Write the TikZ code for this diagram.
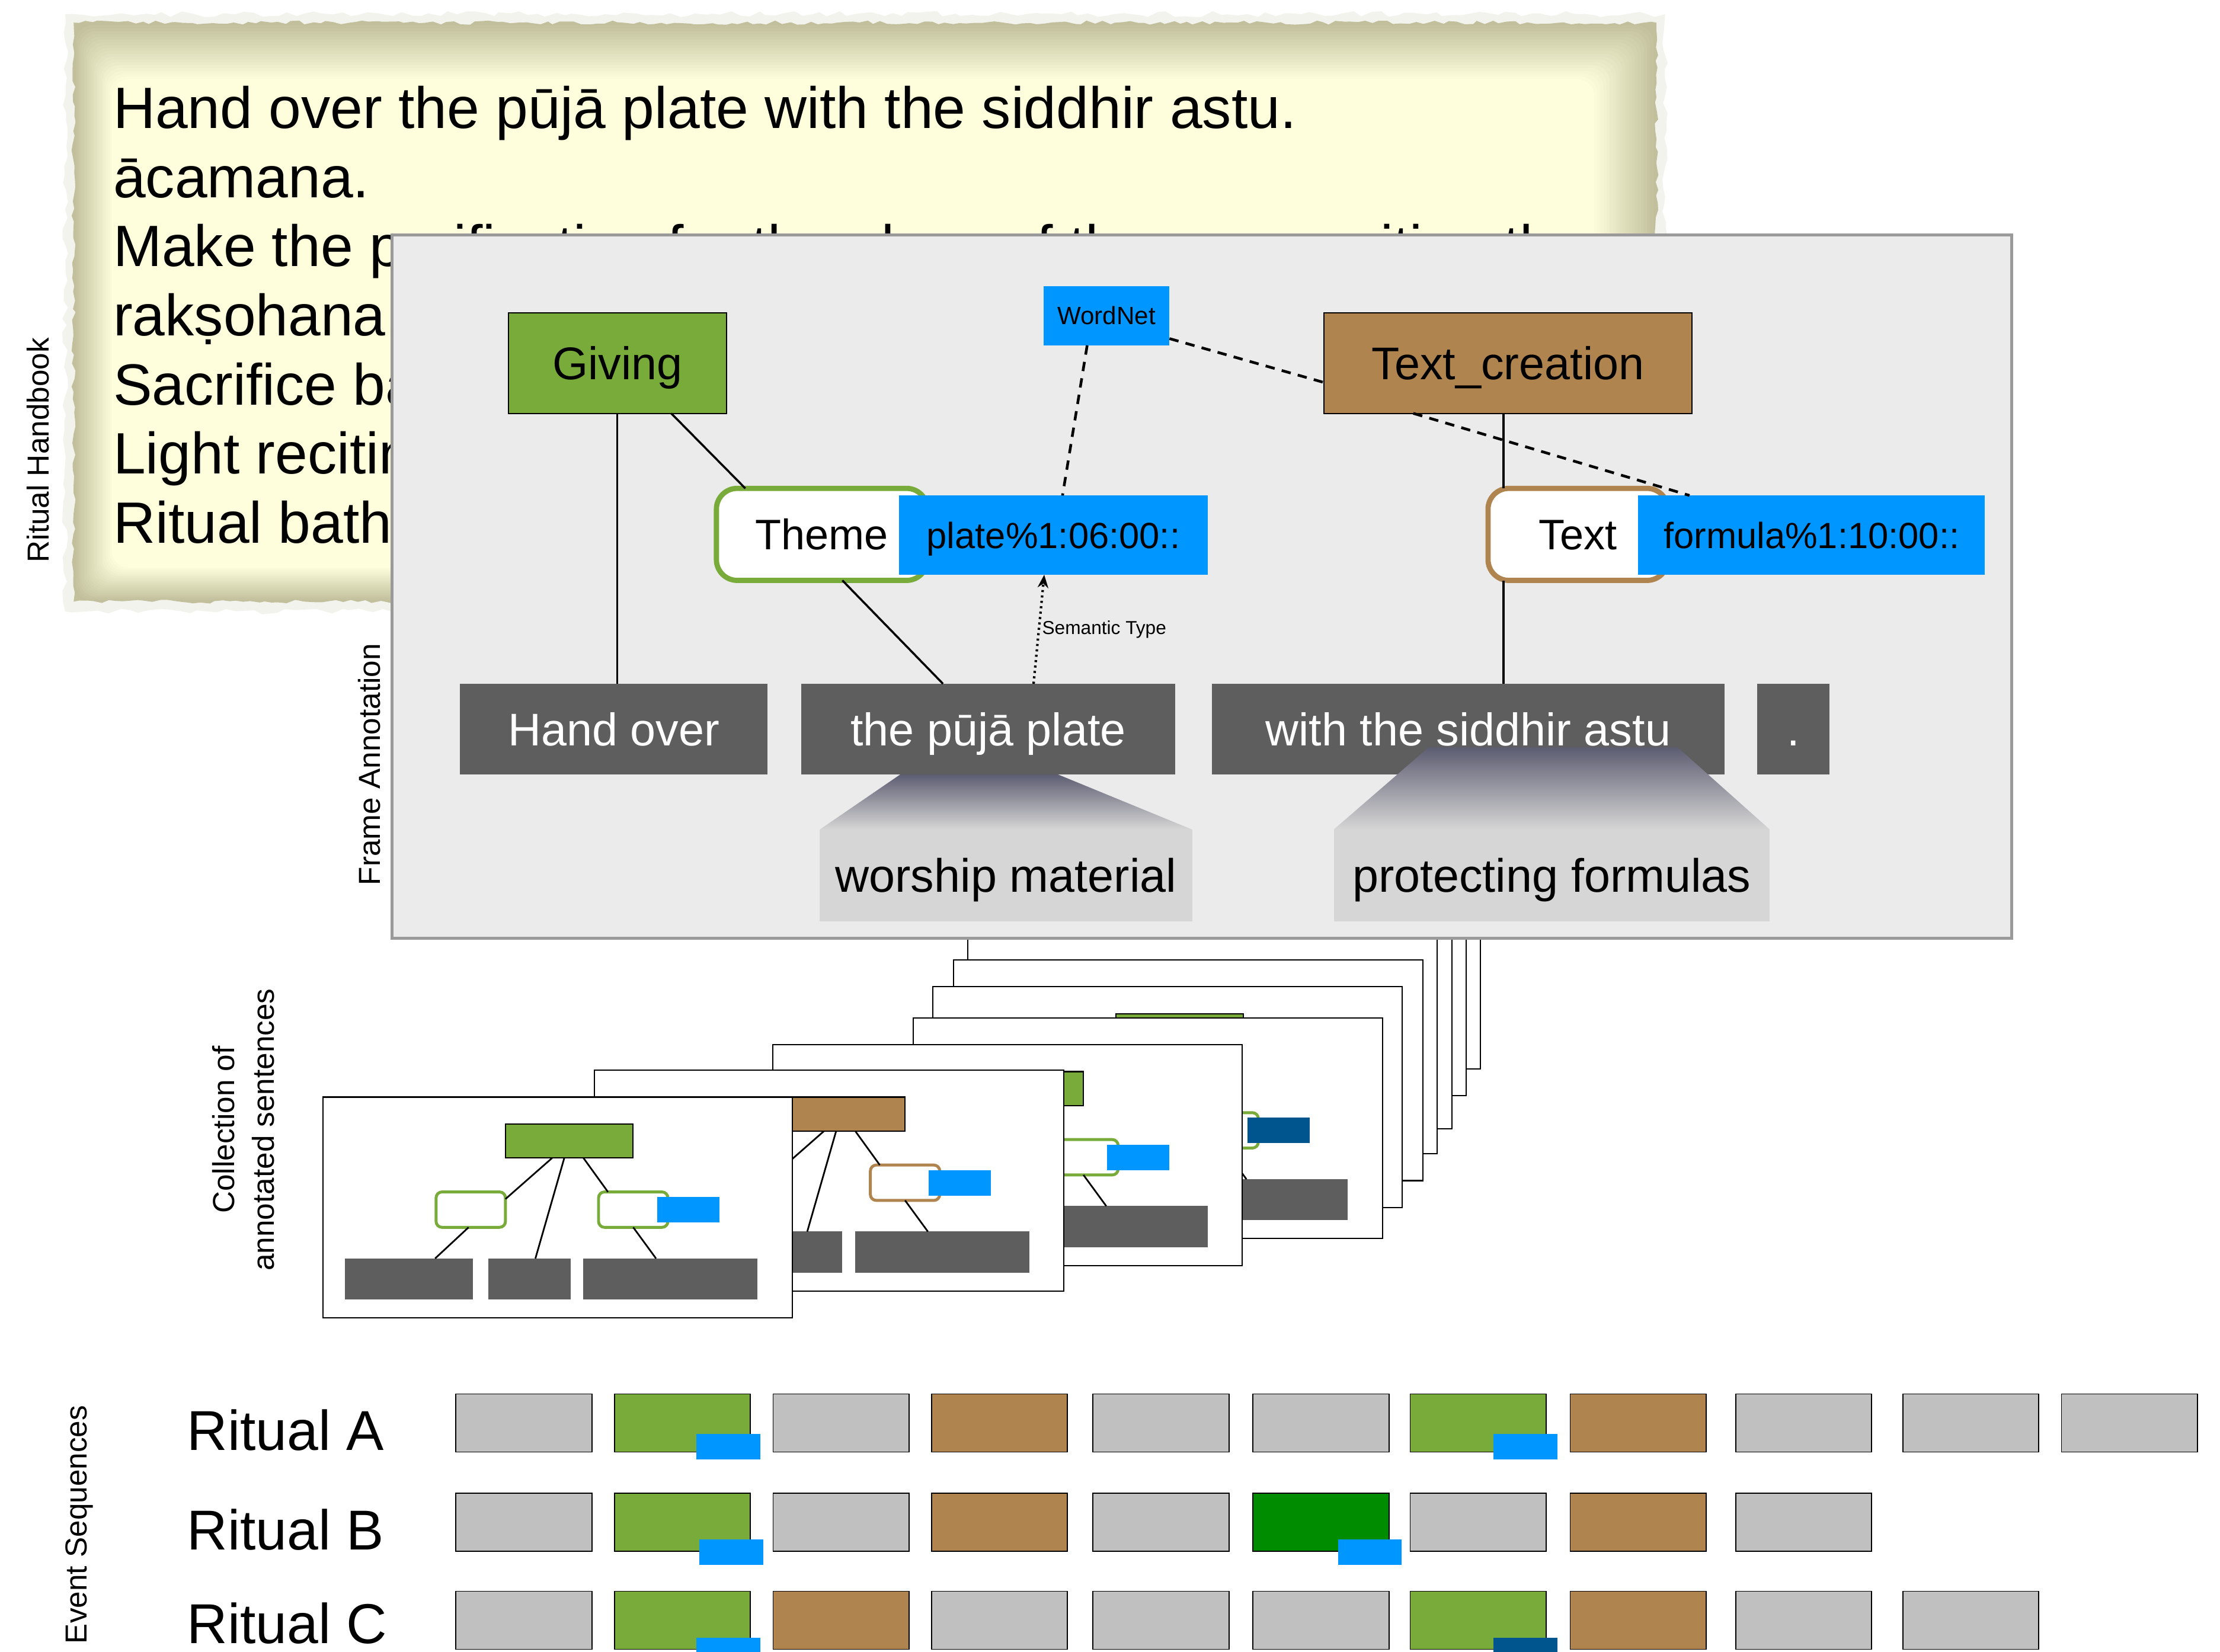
\documentclass[tikz,border=0pt]{standalone}
\usepackage{fontspec}
\setmainfont{Liberation Sans}
\usetikzlibrary{calc,arrows.meta,decorations.pathmorphing}
\definecolor{fgreen}{HTML}{79AB3B}
\definecolor{fbrown}{HTML}{B0844F}
\definecolor{fblue}{HTML}{0096FF}
\definecolor{fdblue}{HTML}{00558F}
\definecolor{fdgreen}{HTML}{008C00}
\definecolor{egray}{HTML}{C0C0C0}
\definecolor{tokgray}{HTML}{5E5E5E}
\definecolor{panelbg}{HTML}{EBEBEB}
\definecolor{panelbd}{HTML}{9A9A9A}
\definecolor{callout}{HTML}{D6D6D6}
\definecolor{calltop}{HTML}{5D5D72}
\definecolor{paperin}{HTML}{FEFEDD}
\definecolor{paperedge}{HTML}{C2C09C}
\definecolor{paperhalo}{HTML}{F3F3EE}
\tikzset{
  sz/.style 2 args={minimum width={#1*0.2389mm}, minimum height={#2*0.2389mm}},
  basebox/.style={inner sep=0pt, outer sep=0pt, anchor=center},
  ptext/.style={anchor=base west, inner sep=0pt, outer sep=0pt, font=\fontsize{28}{33}\selectfont},
  panelnode/.style={basebox, fill=panelbg, draw=panelbd, line width=1.4pt},
  fnode/.style={basebox, text height=19.8pt, text depth=4.05pt, draw=black, line width=0.6pt, font=\fontsize{22}{26}\selectfont},
  rolenode/.style={basebox, text height=18.45pt, text depth=3.77pt, fill=white, line width=2.5pt, rounded corners=3.5mm, font=\fontsize{20.5}{24}\selectfont},
  sensenode/.style={basebox, text height=15.75pt, text depth=3.22pt, fill=fblue, font=\fontsize{17.5}{21}\selectfont},
  smallsense/.style={basebox, text height=10.8pt, text depth=2.2pt, fill=fblue, font=\fontsize{12}{14}\selectfont},
  toknode/.style={basebox, text height=19.8pt, text depth=4.05pt, fill=tokgray, text=white, font=\fontsize{22}{26}\selectfont},
  glossnode/.style={basebox, text height=20.25pt, text depth=4.14pt, fill=callout, font=\fontsize{22.5}{27}\selectfont},
  link/.style={line width=1pt},
  dashlink/.style={line width=1.3pt, dash pattern=on 4.5pt off 3.5pt},
  dotlink/.style={line width=1.2pt, dash pattern=on 1pt off 1.6pt},
  vlabel/.style={basebox, rotate=90, font=\fontsize{14.6}{19}\selectfont, align=center},
  ritual/.style={anchor=base west, inner sep=0pt, text depth=0pt, font=\fontsize{27}{32}\selectfont},
  evbox/.style={basebox, draw=black, line width=0.5pt, sz={96}{41}},
  evmark/.style={basebox, sz={45}{18}},
  cardnode/.style={basebox, fill=white, draw=black, line width=0.6pt, sz={331.5}{156}},
  cframe/.style={basebox, draw=black, line width=0.6pt, sz={90}{24}},
  crole/.style={basebox, fill=white, line width=1.4pt, rounded corners=1mm, sz={49}{25}},
  cblue/.style={basebox, sz={44}{18}},
  ctok/.style={basebox, fill=tokgray},
  clink/.style={line width=0.8pt}
}
\newcommand\drawcard[6]{%
\begin{scope}[shift={(#1,#2)}]
\node[cardnode] (#3) at (165.75,78) {};
\node[cframe, fill=#4] (#3f) at (174,31) {};
\node[crole, draw=#6] (#3l) at (104.5,79.5) {};
\node[crole, draw=#6] (#3r) at (219.25,79.5) {};
\node[cblue, fill=#5] (#3b) at (258,79.5) {};
\node[ctok, sz={90.5}{29}] (#3t1) at (60.75,128.5) {};
\node[ctok, sz={58}{29}] (#3t2) at (146,128.5) {};
\node[ctok, sz={123}{29}] (#3t3) at (245.5,128.5) {};
\draw[clink] (#3f.225) -- (#3l.17);
\draw[clink] (#3l.-97) -- (#3t1.38.5);
\draw[clink] (#3f.254.6) -- (#3t2.74.6);
\draw[clink] (#3f.-50.2) -- (#3r.145.6);
\draw[clink] (#3r.south) -- (#3t3.125.9);
\end{scope}}
\begin{document}
\begin{tikzpicture}[x=0.2389mm,y=-0.2389mm]
\clip (0,0) rectangle (1568,1167);
\fill[white] (0,0) rectangle (1568,1167);
% ---------------- paper -----------------
\pgfmathsetseed{7}
\fill[paperhalo, decorate, decoration={random steps,segment length=1.5mm,amplitude=0.5mm}] (46,10) rectangle (1176,432);
\fill[paperedge, decorate, decoration={random steps,segment length=1.2mm,amplitude=0.35mm}] (52,16) rectangle (1170,425);
\foreach \i in {1,...,20}{
  \pgfmathsetmacro\pc{\i*5}
  \fill[paperin!\pc!paperedge, rounded corners=8pt] (52+\i*1.35,16+\i*2.0) rectangle (1170-\i*2.2,425-\i*1.2);
}
\node[ptext] (l1) at (80,90.7) {Hand over the pūjā plate with the siddhir astu.};
\node[ptext] (l2) at (80,139.5) {ācamana.};
\node[ptext] (l3) at (80,188.3) {Make the purification for the place of the area reciting the};
\node[ptext] (l4) at (80,237.1) {rakṣohana.};
\node[ptext] (l5) at (80,285.9) {Sacrifice bali.};
\node[ptext] (l6) at (80,334.7) {Light reciting the mantra.};
\node[ptext] (l7) at (80,383.5) {Ritual bath.};
% ---------------- cards -----------------
\drawcard{714}{599}{cJ}{fgreen}{fblue}{fgreen}
\drawcard{704}{618}{cI}{fbrown}{fblue}{fbrown}
\drawcard{694}{641.5}{cH}{fgreen}{fblue}{fgreen}
\drawcard{683.6}{659}{cG}{fbrown}{fblue}{fbrown}
\drawcard{673.5}{678}{cF}{fgreen}{fblue}{fgreen}
\drawcard{659}{697}{cE}{fgreen}{fblue}{fgreen}
\drawcard{645}{719}{cD}{fgreen}{fdblue}{fgreen}
\drawcard{546}{738}{cC}{fgreen}{fblue}{fgreen}
\drawcard{420}{756}{cB}{fbrown}{fblue}{fbrown}
\drawcard{228}{775}{cA}{fgreen}{fblue}{fgreen}
% ---------------- panel -----------------
\node[panelnode, sz={1144}{497}] (panel) at (849,414.5) {};
\node[fnode, fill=fgreen, sz={154}{71}] (giving) at (436,256.5) {Giving};
\node[fnode, fill=fbrown, sz={260}{71}] (tc) at (1065,256.5) {Text\_creation};
\node[smallsense, sz={89}{42}] (wordnet) at (781.5,223) {WordNet};
\node[rolenode, draw=fgreen, sz={149}{65}] (theme) at (580.5,377.5) {Theme};
\node[sensenode, sz={218}{56}] (plate) at (744,378) {plate\%1:06:00::};
\node[rolenode, draw=fbrown, sz={127}{65}] (textrole) at (1114.5,377.5) {Text};
\node[sensenode, sz={245}{56}] (formula) at (1279.5,378) {formula\%1:10:00::};
\node[toknode, sz={217}{64}] (handover) at (433.5,515) {Hand over};
\node[toknode, sz={264}{64}] (puja) at (698,515) {the pūjā plate};
\node[toknode, sz={362}{64}] (siddhir) at (1037,515) {with the siddhir astu};
\node[toknode, sz={51}{64}] (stop) at (1266.5,515) {.};
\node[glossnode, sz={263}{65}] (worship) at (710.5,618.5) {worship material};
\node[glossnode, sz={308}{65}] (protect) at (1096,618.5) {protecting formulas};
\shade[top color=calltop, bottom color=callout] ($(puja.south west)+(70,0)$) -- ($(puja.south west)+(181,0)$) -- (worship.north east) -- (worship.north west) -- cycle;
\shade[top color=calltop, bottom color=callout] ($(siddhir.south west)+(153,-19)$) -- ($(siddhir.south west)+(329,-19)$) -- (protect.north east) -- (protect.north west) -- cycle;
% connectors
\draw[link] (giving.south) -- (giving.south |- handover.north);
\draw[link] (giving.-43) -- (theme.149);
\draw[link] (theme.-66) -- (puja.135);
\coordinate (tx) at ($(textrole.north west)+(11,0)$);
\draw[link] (tx |- tc.south) -- (tx);
\draw[link] (tx |- textrole.south) -- (tx |- siddhir.north);
\draw[dashlink] (wordnet.-20.9) -- (tc.186.8);
\draw[dashlink] (wordnet.237.3) -- (plate.77.9);
\draw[dashlink] (tc.208.6) -- (formula.162.6);
\draw[dotlink, -{Stealth[length=2.2mm,width=1.8mm]}] (puja.45) -- (plate.257.9)
  node[pos=0.5, anchor=west, xshift=1pt, inner sep=0pt, font=\fontsize{9}{11}\selectfont] (semtype) {Semantic Type};
% ---------------- side labels -----------------
\node[vlabel] (lblhb) at (27,318) {Ritual Handbook};
\node[vlabel] (lblfa) at (261,540) {Frame Annotation};
\node[vlabel] (lblcol) at (172,798) {Collection of\\annotated sentences};
\node[vlabel] (lblev) at (56,1077) {Event Sequences};
% ---------------- event sequences -----------------
\node[ritual] (ritA) at (131.8,1024.3) {Ritual A};
\node[ritual] (ritB) at (131.8,1094.6) {Ritual B};
\node[ritual] (ritC) at (131.8,1161) {Ritual C};
\foreach \x/\c [count=\i] in {322/egray,434/fgreen,546/egray,658/fbrown,772/egray,885/egray,996/fgreen,1109/fbrown,1226/egray,1344/egray,1456/egray}
  \node[evbox, fill=\c] (evA\i) at (\x+48,1005.2) {};
\foreach \x/\c [count=\i] in {322/egray,434/fgreen,546/egray,658/fbrown,772/egray,885/fdgreen,996/egray,1109/fbrown,1226/egray}
  \node[evbox, fill=\c] (evB\i) at (\x+48,1075.3) {};
\foreach \x/\c [count=\i] in {322/egray,434/fgreen,546/fbrown,658/egray,772/egray,885/egray,996/fgreen,1109/fbrown,1226/egray,1344/egray}
  \node[evbox, fill=\c] (evC\i) at (\x+48,1144.6) {};
\node[evmark, fill=fblue] (mA1) at (514.5,1022) {};
\node[evmark, fill=fblue] (mA2) at (1077.5,1022) {};
\node[evmark, fill=fblue] (mB1) at (516.5,1096.3) {};
\node[evmark, fill=fblue] (mB2) at (967.5,1096.3) {};
\node[evmark, fill=fblue] (mC1) at (514.5,1166) {};
\node[evmark, fill=fdblue] (mC2) at (1077.5,1166) {};
\end{tikzpicture}
\end{document}
